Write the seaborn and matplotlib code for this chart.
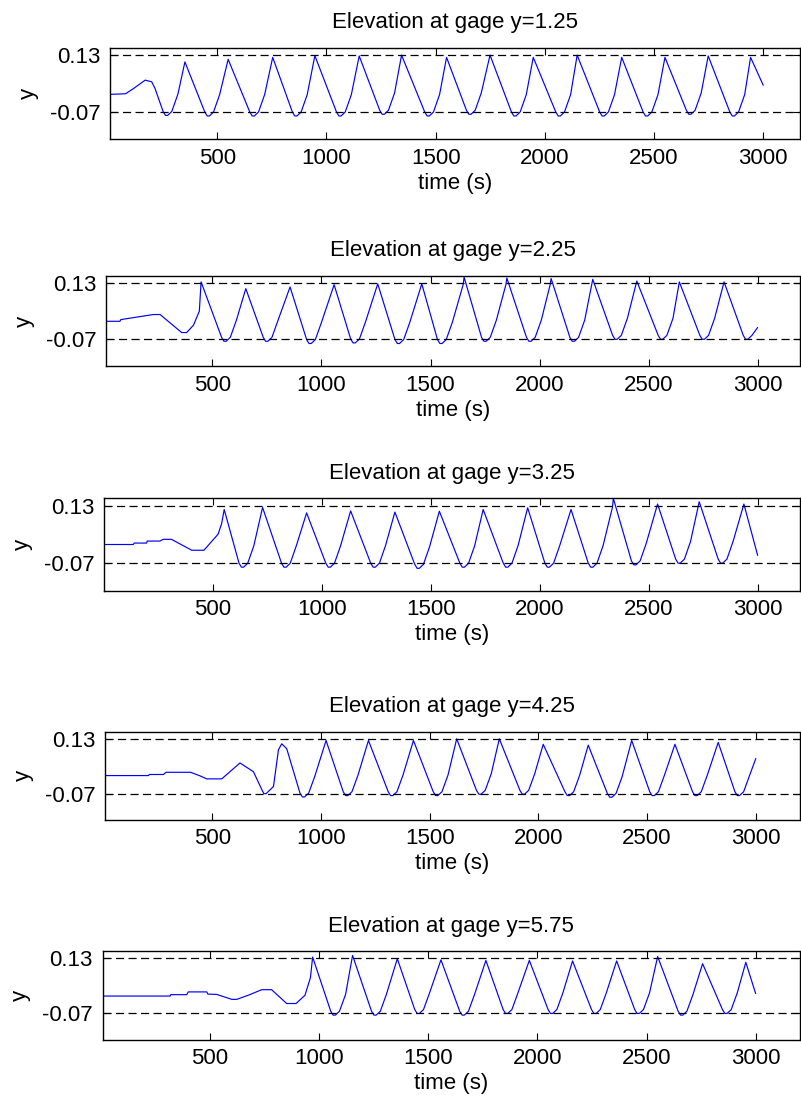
import matplotlib
matplotlib.use("Agg")
import matplotlib.pyplot as plt
import seaborn as sns
import pandas as pd

# ---------------- data ----------------
gage_labels = ["1.25", "2.25", "3.25", "4.25", "5.75"]
ref_high = 0.13
ref_low = -0.07
xticks = [500, 1000, 1500, 2000, 2500, 3000]
yticks = [-0.07, 0.13]
ytick_labels = ["-0.07", "0.13"]

t1 = [10, 80, 116, 170, 200, 215,
      252, 263, 273, 292, 320, 352,
      443, 454, 464, 483, 511, 550,
      649, 660, 670, 689, 717, 754,
      844, 855, 865, 884, 912, 947,
      1046, 1057, 1067, 1086, 1114, 1150,
      1244, 1255, 1265, 1284, 1312, 1344,
      1450, 1461, 1471, 1490, 1518, 1550,
      1641, 1652, 1662, 1681, 1709, 1749,
      1847, 1858, 1868, 1887, 1915, 1947,
      2050, 2061, 2071, 2090, 2118, 2148,
      2251, 2262, 2272, 2291, 2319, 2352,
      2450, 2461, 2471, 2490, 2518, 2550,
      2648, 2659, 2669, 2688, 2716, 2748,
      2847, 2858, 2868, 2887, 2915, 2942,
      3000]
y1 = [-0.008, -0.006, 0.012, 0.042, 0.036, 0.013,
      -0.068, -0.082, -0.082, -0.068, -0.007, 0.106,
      -0.070, -0.084, -0.084, -0.070, -0.009, 0.115,
      -0.070, -0.084, -0.084, -0.070, -0.009, 0.122,
      -0.070, -0.084, -0.084, -0.070, -0.009, 0.128,
      -0.070, -0.084, -0.084, -0.070, -0.009, 0.127,
      -0.064, -0.078, -0.078, -0.064, -0.003, 0.130,
      -0.070, -0.084, -0.084, -0.070, -0.009, 0.122,
      -0.064, -0.078, -0.078, -0.064, -0.003, 0.130,
      -0.070, -0.084, -0.084, -0.070, -0.009, 0.122,
      -0.070, -0.084, -0.084, -0.070, -0.009, 0.130,
      -0.070, -0.084, -0.084, -0.070, -0.009, 0.122,
      -0.070, -0.084, -0.084, -0.070, -0.009, 0.122,
      -0.064, -0.078, -0.078, -0.064, -0.003, 0.127,
      -0.070, -0.084, -0.084, -0.070, -0.009, 0.122,
      0.024]

t2 = [12, 76, 80, 229, 260, 359, 382, 413, 440, 448,
      542, 553, 563, 582, 610, 653,
      733, 744, 754, 773, 801, 856,
      932, 943, 953, 972, 1000, 1058,
      1134, 1145, 1155, 1174, 1202, 1258,
      1337, 1348, 1358, 1377, 1405, 1460,
      1532, 1543, 1553, 1572, 1600, 1650, 1654,
      1734, 1745, 1755, 1774, 1802, 1846, 1850,
      1940, 1951, 1961, 1980, 2008, 2049, 2053,
      2139, 2150, 2160, 2179, 2207, 2244,
      2335, 2346, 2356, 2375, 2403, 2446,
      2544, 2555, 2565, 2584, 2612, 2641,
      2735, 2746, 2756, 2775, 2803, 2846,
      2934, 2945, 2955, 2974, 3000]
y2 = [-0.006, -0.006, 0.000, 0.018, 0.018, -0.046, -0.046, -0.020, 0.030, 0.134,
      -0.063, -0.077, -0.077, -0.063, -0.002, 0.110,
      -0.063, -0.077, -0.077, -0.063, -0.002, 0.116,
      -0.071, -0.085, -0.085, -0.071, -0.010, 0.124,
      -0.069, -0.083, -0.083, -0.069, -0.008, 0.127,
      -0.071, -0.085, -0.085, -0.071, -0.010, 0.127,
      -0.071, -0.085, -0.085, -0.071, -0.010, 0.125, 0.151,
      -0.063, -0.077, -0.077, -0.063, -0.002, 0.125, 0.148,
      -0.063, -0.077, -0.077, -0.063, -0.002, 0.125, 0.146,
      -0.063, -0.077, -0.077, -0.063, -0.002, 0.143,
      -0.056, -0.070, -0.070, -0.056, 0.005, 0.137,
      -0.056, -0.070, -0.070, -0.056, 0.005, 0.134,
      -0.056, -0.070, -0.070, -0.056, 0.005, 0.134,
      -0.056, -0.070, -0.070, -0.056, -0.028]

t3 = [8, 136, 140, 197, 200, 258, 273, 311, 404, 460, 525, 541, 553,
      621, 632, 642, 661, 689, 729,
      816, 827, 837, 856, 884, 931,
      1019, 1030, 1040, 1059, 1087, 1133,
      1225, 1236, 1246, 1265, 1293, 1336,
      1427, 1438, 1448, 1467, 1495, 1540,
      1634, 1645, 1655, 1674, 1702, 1741,
      1833, 1844, 1854, 1873, 1901, 1945,
      2024, 2035, 2045, 2064, 2092, 2144,
      2223, 2234, 2244, 2263, 2291, 2334, 2338,
      2421, 2432, 2442, 2461, 2489, 2541,
      2624, 2635, 2645, 2664, 2692, 2732,
      2819, 2830, 2840, 2859, 2887, 2937,
      3000]
y3 = [-0.005, -0.005, 0.000, 0.000, 0.007, 0.007, 0.013, 0.013, -0.025, -0.025, 0.031, 0.067, 0.117,
      -0.070, -0.084, -0.084, -0.070, -0.009, 0.124,
      -0.070, -0.084, -0.084, -0.070, -0.009, 0.105,
      -0.070, -0.084, -0.084, -0.070, -0.009, 0.112,
      -0.070, -0.084, -0.084, -0.070, -0.009, 0.108,
      -0.074, -0.088, -0.088, -0.074, -0.013, 0.111,
      -0.070, -0.084, -0.084, -0.070, -0.009, 0.117,
      -0.070, -0.084, -0.084, -0.070, -0.009, 0.123,
      -0.070, -0.084, -0.084, -0.070, -0.009, 0.117,
      -0.070, -0.084, -0.084, -0.070, -0.009, 0.125, 0.156,
      -0.062, -0.076, -0.076, -0.062, -0.001, 0.136,
      -0.056, -0.070, -0.070, -0.056, 0.005, 0.144,
      -0.056, -0.070, -0.070, -0.056, 0.005, 0.136,
      -0.043]

t4 = [8, 206, 210, 275, 287, 400, 443, 474, 543, 627, 689,
      728, 737, 747, 781, 804, 819, 842,
      903, 914, 924, 943, 971, 1023,
      1102, 1113, 1123, 1142, 1170, 1218,
      1309, 1320, 1330, 1349, 1377, 1425,
      1516, 1527, 1537, 1556, 1584, 1624,
      1715, 1726, 1736, 1755, 1783, 1820,
      1915, 1926, 1936, 1955, 1983, 2022,
      2122, 2133, 2143, 2162, 2190, 2229,
      2317, 2328, 2338, 2357, 2385, 2429,
      2512, 2523, 2533, 2552, 2580, 2628,
      2709, 2720, 2730, 2749, 2777, 2827,
      2904, 2915, 2925, 2944, 2972, 3000]
y4 = [-0.004, -0.004, 0.000, 0.000, 0.008, 0.008, -0.005, -0.016, -0.016, 0.042, 0.010,
      -0.056, -0.070, -0.070, -0.044, 0.090, 0.112, 0.094,
      -0.068, -0.082, -0.082, -0.068, -0.007, 0.124,
      -0.063, -0.077, -0.077, -0.063, -0.002, 0.124,
      -0.063, -0.077, -0.077, -0.063, -0.002, 0.124,
      -0.063, -0.077, -0.077, -0.063, -0.002, 0.130,
      -0.058, -0.072, -0.072, -0.058, 0.003, 0.130,
      -0.058, -0.072, -0.072, -0.058, 0.003, 0.110,
      -0.063, -0.077, -0.077, -0.063, -0.002, 0.107,
      -0.069, -0.083, -0.083, -0.069, -0.008, 0.124,
      -0.063, -0.077, -0.077, -0.063, -0.002, 0.110,
      -0.063, -0.077, -0.077, -0.063, -0.002, 0.117,
      -0.063, -0.077, -0.077, -0.063, -0.002, 0.058]

t5 = [12, 317, 320, 393, 400, 485, 490, 530, 600, 622, 675, 737, 782, 851, 894, 935, 960, 970,
      1053, 1064, 1074, 1093, 1121, 1153,
      1240, 1251, 1261, 1280, 1308, 1358,
      1438, 1449, 1459, 1478, 1506, 1558,
      1644, 1655, 1665, 1684, 1712, 1764,
      1843, 1854, 1864, 1883, 1911, 1963,
      2049, 2060, 2070, 2089, 2117, 2161,
      2248, 2259, 2269, 2288, 2316, 2363,
      2446, 2457, 2467, 2486, 2514, 2551,
      2645, 2656, 2666, 2685, 2713, 2757,
      2848, 2859, 2869, 2888, 2916, 2955,
      3000]
y5 = [-0.007, -0.007, -0.002, -0.002, 0.008, 0.008, 0.000, -0.001, -0.019, -0.019, -0.004, 0.016, 0.016, -0.034, -0.034, -0.004, 0.060, 0.134,
      -0.062, -0.076, -0.076, -0.062, -0.001, 0.140,
      -0.062, -0.076, -0.076, -0.062, -0.001, 0.128,
      -0.056, -0.070, -0.070, -0.056, 0.005, 0.124,
      -0.062, -0.076, -0.076, -0.062, -0.001, 0.122,
      -0.056, -0.070, -0.070, -0.056, 0.005, 0.122,
      -0.056, -0.070, -0.070, -0.056, 0.005, 0.120,
      -0.056, -0.070, -0.070, -0.056, 0.005, 0.120,
      -0.056, -0.070, -0.070, -0.056, 0.005, 0.136,
      -0.062, -0.076, -0.076, -0.062, -0.001, 0.110,
      -0.056, -0.070, -0.070, -0.056, 0.005, 0.115,
      0.002]

series_t = [t1, t2, t3, t4, t5]
series_y = [y1, y2, y3, y4, y5]

# ---------------- layout (pixels in an 801 x 1106 figure) ----------------
W, H = 801, 1106
boxes = [  # left, right, top, bottom
    (110.0, 799.5, 47.7, 139.3),
    (106.0, 799.5, 275.7, 366.3),
    (104.3, 799.5, 498.3, 590.7),
    (105.0, 799.5, 731.7, 820.0),
    (102.7, 799.5, 951.0, 1040.0),
]
xlims = [(9, 3166), (12, 3192), (3, 3192), (6, 3201), (8, 3201)]
ylim = (-0.166, 0.156)

sns.set_theme(style="ticks")
plt.rcParams['font.family'] = ['Liberation Sans', 'DejaVu Sans']
plt.rcParams['font.size'] = 16
plt.rcParams['text.color'] = 'black'
plt.rcParams['axes.labelcolor'] = 'black'
plt.rcParams['axes.titlecolor'] = 'black'
plt.rcParams['xtick.color'] = 'black'
plt.rcParams['ytick.color'] = 'black'

fig = plt.figure(figsize=(W / 100, H / 100), dpi=100)
fig.patch.set_facecolor("white")

for i in range(5):
    l, r, t, b = boxes[i]
    ax = fig.add_axes([l / W, 1 - b / H, (r - l) / W, (b - t) / H])
    df = pd.DataFrame({"time": series_t[i], "elev": series_y[i]})
    sns.lineplot(data=df, x="time", y="elev", ax=ax, color="#0000FF",
                 linewidth=0.85, estimator=None, sort=False)
    ax.axhline(ref_high, color="black", linestyle=(0, (6.5, 3.5)), linewidth=0.9)
    ax.axhline(ref_low, color="black", linestyle=(0, (6.5, 3.5)), linewidth=0.9)
    ax.set_xlim(*xlims[i])
    ax.set_ylim(*ylim)
    ax.set_xticks(xticks)
    ax.set_xticklabels([str(v) for v in xticks])
    ax.set_yticks(yticks)
    ax.set_yticklabels(ytick_labels)
    ax.tick_params(direction="in", length=5, width=0.8, top=True, right=True,
                   labelsize=16, colors="black", pad=6)
    ax.tick_params(axis="y", pad=7)
    for sp in ax.spines.values():
        sp.set_visible(True)
        sp.set_color("black")
        sp.set_linewidth(1.0)
    ax.set_facecolor("white")
    ax.set_title(f"Elevation at gage y={gage_labels[i]}", fontsize=16, pad=14,
                 color="black")
    ax.set_xlabel("time (s)", fontsize=16, labelpad=3, color="black")
    ax.set_ylabel("y", fontsize=16, labelpad=8, color="black")
    ax.grid(False)

fig.savefig("out.png", dpi=100, facecolor="white")
